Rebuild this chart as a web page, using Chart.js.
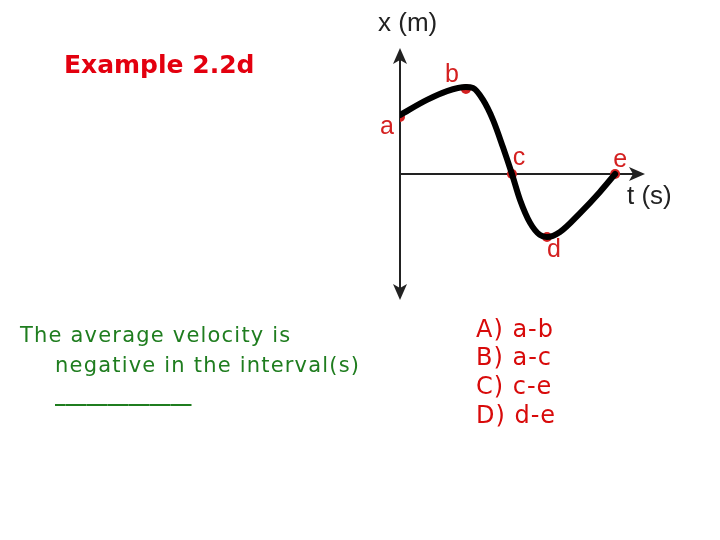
<!DOCTYPE html>
<html>
<head>
<meta charset="utf-8">
<script src="https://cdn.jsdelivr.net/npm/chart.js@4/dist/chart.umd.min.js"></script>
<style>
  html, body { margin: 0; padding: 0; background: #fff; }
  #wrap { position: relative; width: 720px; height: 540px; overflow: hidden; }
  #c { position: absolute; left: 0; top: 0; }
  .txt { position: absolute; white-space: nowrap; }
  #title { left: 64px; top: 50px; font-family: "DejaVu Sans", sans-serif; font-weight: bold; font-size: 25px; color: #e3000f; }
  .green { font-family: "DejaVu Sans", sans-serif; font-size: 21px; letter-spacing: 1.2px; color: #1f7d1f; }
  .red { font-family: "DejaVu Sans", sans-serif; font-size: 24px; letter-spacing: 1px; color: #d80a0a; }
</style>
</head>
<body>
<div id="wrap">
  <canvas id="c" width="720" height="540"></canvas>
  <div id="title" class="txt">Example 2.2d</div>
  <div class="txt green" style="left:20px; top:323px;">The average velocity is</div>
  <div class="txt green" style="left:55px; top:353px;">negative in the interval(s)</div>
  <div class="txt green" style="left:55px; top:382px; letter-spacing:0; font-weight:bold;">_____________</div>
  <div class="txt red" style="left:476px; top:315px;">A) a-b</div>
  <div class="txt red" style="left:476px; top:343px;">B) a-c</div>
  <div class="txt red" style="left:476px; top:372px;">C) c-e</div>
  <div class="txt red" style="left:476px; top:401px;">D) d-e</div>
</div>
<script>
// Curve (t in s, x in m, arbitrary units)
const curveT = [0, 1.10, 1.92, 2.69, 2.98, 3.39, 3.80, 4.20, 4.57, 4.90, 5.31, 5.71, 6.00, 6.53, 7.35, 8.16, 8.78];
const curveX = [2.34, 2.94, 3.29, 3.45, 3.41, 2.94, 2.14, 1.07, 0, -1.03, -1.94, -2.42, -2.50, -2.30, -1.55, -0.71, 0];

// Labelled points
const pointLabels = ['a', 'b', 'c', 'd', 'e'];
const pointT = [0, 2.69, 4.57, 6.00, 8.78];
const pointX = [2.26, 3.37, 0, -2.50, 0];

// Axis titles
const axisTitleY = 'x (m)';
const axisTitleX = 't (s)';

const curveData = curveT.map((t, i) => ({ x: t, y: curveX[i] }));
const pointData = pointT.map((t, i) => ({ x: t, y: pointX[i] }));

// label offsets (pixels) relative to each point
const labelOffsets = [[-13, 10], [-14, -14], [7, -16], [7, 13], [5, -14]];

const axesPlugin = {
  id: 'axesArrows',
  beforeDatasetsDraw(chart) {
    const { ctx, scales: { x, y } } = chart;
    const x0 = x.getPixelForValue(0);
    const y0 = y.getPixelForValue(0);
    const yTop = y.getPixelForValue(5);
    const yBot = y.getPixelForValue(-5);
    const xRight = x.getPixelForValue(10);
    ctx.save();
    ctx.strokeStyle = '#222';
    ctx.fillStyle = '#222';
    ctx.lineWidth = 2;
    ctx.beginPath();
    ctx.moveTo(x0, yTop + 10); ctx.lineTo(x0, yBot - 10);
    ctx.moveTo(x0, y0); ctx.lineTo(xRight - 10, y0);
    ctx.stroke();
    const ah = 16, aw = 7;
    ctx.beginPath();
    ctx.moveTo(x0, yTop); ctx.lineTo(x0 - aw, yTop + ah); ctx.lineTo(x0, yTop + ah - 4); ctx.lineTo(x0 + aw, yTop + ah); ctx.closePath();
    ctx.fill();
    ctx.beginPath();
    ctx.moveTo(x0, yBot); ctx.lineTo(x0 - aw, yBot - ah); ctx.lineTo(x0, yBot - ah + 4); ctx.lineTo(x0 + aw, yBot - ah); ctx.closePath();
    ctx.fill();
    ctx.beginPath();
    ctx.moveTo(xRight, y0); ctx.lineTo(xRight - ah, y0 - aw); ctx.lineTo(xRight - ah + 4, y0); ctx.lineTo(xRight - ah, y0 + aw); ctx.closePath();
    ctx.fill();
    // axis titles
    ctx.font = '26px "Liberation Sans", Arial, sans-serif';
    ctx.textBaseline = 'middle';
    ctx.textAlign = 'left';
    ctx.fillStyle = '#222';
    ctx.fillText(axisTitleY, x0 - 22, yTop - 24);
    ctx.fillText(axisTitleX, xRight - 18, y0 + 23);
    ctx.restore();
  },
  afterDatasetsDraw(chart) {
    const { ctx, scales: { x, y } } = chart;
    ctx.save();
    ctx.font = '25px "Liberation Sans", Arial, sans-serif';
    ctx.fillStyle = '#d42020';
    ctx.textAlign = 'center';
    ctx.textBaseline = 'middle';
    pointLabels.forEach((lab, i) => {
      const px = x.getPixelForValue(pointT[i]) + labelOffsets[i][0];
      const py = y.getPixelForValue(pointX[i]) + labelOffsets[i][1];
      ctx.fillText(lab, px, py);
    });
    ctx.restore();
  }
};

new Chart(document.getElementById('c'), {
  type: 'line',
  data: {
    datasets: [
      {
        data: pointData,
        showLine: false,
        pointRadius: 5,
        pointBackgroundColor: '#d42020',
        pointBorderWidth: 0,
        order: 2
      },
      {
        data: curveData,
        borderColor: '#000',
        borderWidth: 6,
        pointRadius: 0,
        cubicInterpolationMode: 'monotone',
        borderCapStyle: 'round',
        borderJoinStyle: 'round',
        fill: false,
        order: 1
      }
    ]
  },
  options: {
    responsive: false,
    animation: false,
    layout: { padding: { left: 400, right: 75, top: 48, bottom: 240 } },
    scales: {
      x: { type: 'linear', min: 0, max: 10, display: false },
      y: { type: 'linear', min: -5, max: 5, display: false }
    },
    plugins: { legend: { display: false }, tooltip: { enabled: false } }
  },
  plugins: [axesPlugin]
});
</script>
</body>
</html>
